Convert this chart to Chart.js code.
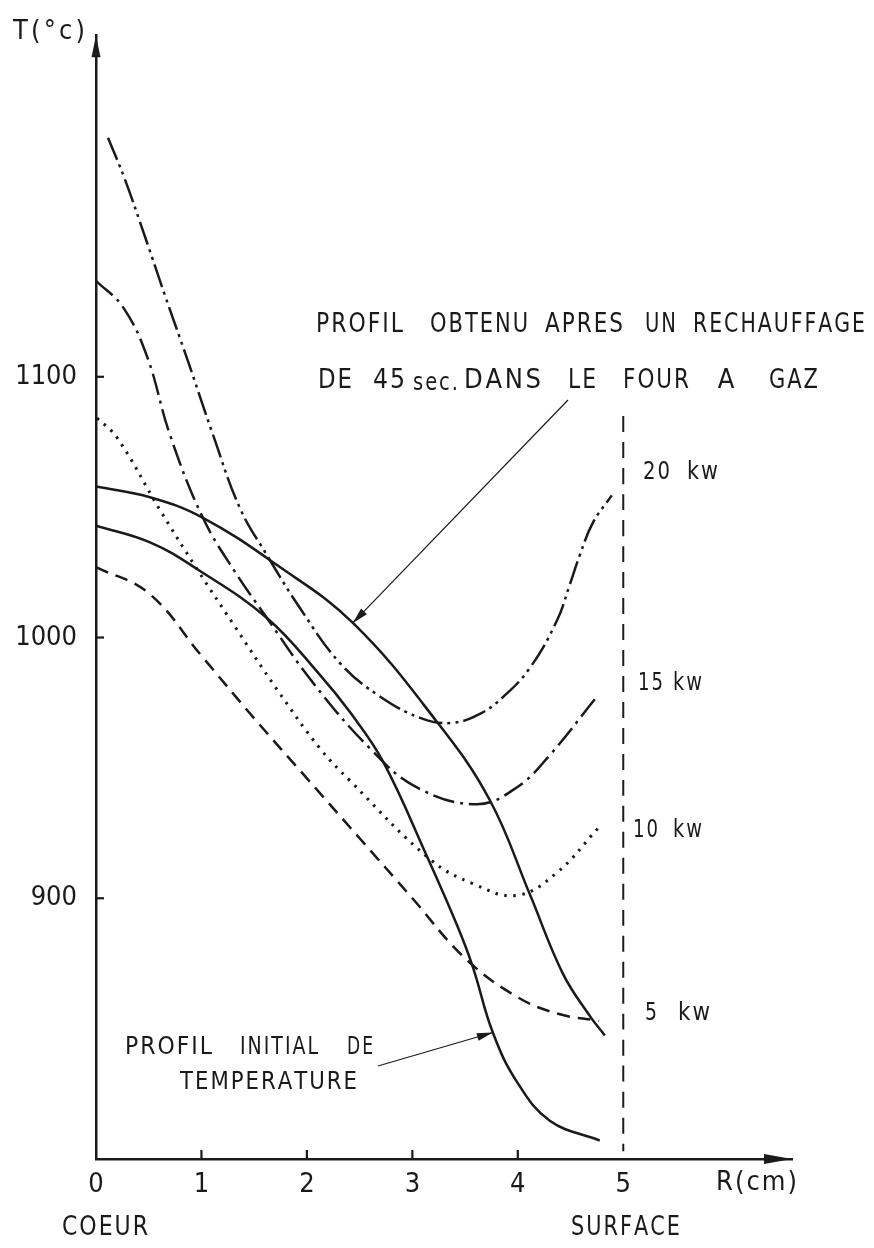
<!DOCTYPE html>
<html><head><meta charset="utf-8">
<script src="https://cdn.jsdelivr.net/npm/chart.js@4/dist/chart.umd.min.js"></script>
<style>html,body{margin:0;padding:0;background:#fff;}#wrap{width:874px;height:1248px;position:relative;}</style>
</head><body><div id="wrap"><canvas id="c" width="874" height="1248"></canvas></div>
<script>
// ---- data (R in cm, T in °C) ----
const xTicks = [0, 1, 2, 3, 4, 5];
const yTicks = [900, 1000, 1100];

const profilObtenuR = [0, 0.512, 1.014, 1.716, 2.436, 3.232, 3.735, 4.114, 4.427, 4.682, 4.825];
const profilObtenuT = [1057.9, 1053.8, 1045.9, 1027.8, 1005.6, 967.7, 937.6, 901.5, 871.1, 854.9, 847.4];

const profilInitialR = [0, 0.512, 0.957, 1.621, 2.123, 2.408, 2.72, 3.137, 3.422, 3.573, 3.763, 3.99, 4.303, 4.777];
const profilInitialT = [1042.9, 1036.5, 1026.3, 1007.5, 985.7, 971.4, 952.6, 916.2, 889.8, 873.7, 848.5, 829.7, 814.7, 807.1];

const kw5R = [0, 0.5, 1.0, 1.5, 2.0, 2.5, 3.0, 3.5, 4.0, 4.4, 4.77];
const kw5T = [1027, 1017, 993, 969, 946, 923, 900, 877, 862, 855.5, 853];

const kw10R = [0.01, 0.199, 0.607, 0.957, 1.299, 1.716, 2.123, 2.408, 3.166, 3.573, 3.99, 4.37, 4.758];
const kw10T = [1084.2, 1076.7, 1048.9, 1026.3, 1005.3, 980.1, 957.5, 945.1, 915.0, 905.6, 901.1, 909.8, 926.7];

const kw15R = [0, 0.256, 0.483, 0.701, 1.014, 1.318, 1.621, 2.057, 2.597, 3.043, 3.611, 3.99, 4.303, 4.73];
const kw15T = [1136.8, 1126.7, 1107.9, 1077.8, 1045.9, 1025.2, 1007.5, 982.7, 957.5, 942.5, 936.1, 942.5, 954.9, 976.3];

const kw20R = [0.114, 0.275, 0.464, 0.654, 0.872, 1.109, 1.365, 1.621, 1.934, 2.313, 2.692, 3.1, 3.384, 3.64, 3.858, 4.114, 4.37, 4.493, 4.588, 4.711, 4.891];
const kw20T = [1191.7, 1175.6, 1153.8, 1131.2, 1106.0, 1077.8, 1049.6, 1031.6, 1011.3, 990.2, 977.4, 968.8, 967.3, 970.7, 977.1, 988.3, 1006.4, 1020.3, 1031.6, 1044.0, 1054.5];

const surfaceR = [5, 5];
const surfaceT = [1085, 803];

// annotation anchors (data coordinates on the curves)
const anchorObtenu = [2.436, 1005.6];
const anchorInitial = [3.763, 848.5];

// ---- styling ----
const FONT = "'DejaVu Sans Condensed','Liberation Sans Narrow','DejaVu Sans',sans-serif";
const INK = '#1a1a1a';
const pts = (R, T) => R.map((r, i) => ({x: r, y: T[i]}));
const ds = (R, T, dash, w) => ({
  data: pts(R, T), borderColor: INK, borderWidth: w || 2.5, borderDash: dash || [],
  pointRadius: 0, fill: false, tension: 0.4, borderCapStyle: 'butt', borderJoinStyle: 'round'
});

function spreadWord(ctx, s, x0, x1, yc, size) {
  ctx.font = size + 'px ' + FONT;
  ctx.textBaseline = 'middle';
  ctx.textAlign = 'left';
  const chars = [...s];
  const ws = chars.map(ch => ctx.measureText(ch).width);
  const nat = ws.reduce((a, b) => a + b, 0);
  const n = chars.length;
  const minGap = 2;
  let sx = 1;
  if (n > 1 && nat + (n - 1) * minGap > (x1 - x0)) sx = ((x1 - x0) - (n - 1) * minGap) / nat;
  if (n === 1 && nat > (x1 - x0)) sx = (x1 - x0) / nat;
  const gap = n > 1 ? ((x1 - x0) - nat * sx) / (n - 1) : 0;
  let x = n > 1 ? x0 : (x0 + x1 - nat * sx) / 2;
  chars.forEach((ch, i) => {
    ctx.save(); ctx.translate(x, yc); ctx.scale(sx, 1); ctx.fillText(ch, 0, 0); ctx.restore();
    x += ws[i] * sx + gap;
  });
}
function arrowHead(ctx, x0, y0, x1, y1, len, hw) {
  const a = Math.atan2(y1 - y0, x1 - x0);
  ctx.beginPath();
  ctx.moveTo(x1, y1);
  ctx.lineTo(x1 - len * Math.cos(a) + hw * Math.sin(a), y1 - len * Math.sin(a) - hw * Math.cos(a));
  ctx.lineTo(x1 - len * Math.cos(a) - hw * Math.sin(a), y1 - len * Math.sin(a) + hw * Math.cos(a));
  ctx.closePath(); ctx.fill();
}

const deco = {
  id: 'deco',
  afterDraw(chart) {
    const ctx = chart.ctx, xs = chart.scales.x, ys = chart.scales.y, ca = chart.chartArea;
    ctx.save();
    ctx.fillStyle = INK; ctx.strokeStyle = INK;
    // inward ticks
    ctx.lineWidth = 2.2;
    yTicks.forEach(v => { const y = ys.getPixelForValue(v); ctx.beginPath(); ctx.moveTo(ca.left, y); ctx.lineTo(ca.left + 8, y); ctx.stroke(); });
    xTicks.slice(1, 5).forEach(v => { const x = xs.getPixelForValue(v); ctx.beginPath(); ctx.moveTo(x, ca.bottom); ctx.lineTo(x, ca.bottom - 9); ctx.stroke(); });
    // axis arrows
    arrowHead(ctx, ca.left, ca.top + 40, ca.left, ca.top, 22, 4.5);
    arrowHead(ctx, ca.right - 40, ca.bottom, ca.right, ca.bottom, 28, 5);
    // axis titles
    spreadWord(ctx, 'T(°c)', 13, 85, 32, 27);
    spreadWord(ctx, 'R(cm)', 716, 797, 1183, 27);
    spreadWord(ctx, 'COEUR', 62, 148, 1228, 27);
    spreadWord(ctx, 'SURFACE', 571, 680, 1228, 27);
    // top annotation
    [['PROFIL',316,403],['OBTENU',430,528],['APRES',545,623],['UN',645,676],['RECHAUFFAGE',693,865]]
      .forEach(w => spreadWord(ctx, w[0], w[1], w[2], 325, 27));
    [['DE',318,352],['45',373,405],['DANS',464,541],['LE',568,596],['FOUR',623,689],['A',714,738],['GAZ',769,818]]
      .forEach(w => spreadWord(ctx, w[0], w[1], w[2], 381, 27));
    spreadWord(ctx, 'sec.', 413, 458, 384, 24);
    // bottom annotation
    [['PROFIL',125,212],['INITIAL',240,318],['DE',347,373]].forEach(w => spreadWord(ctx, w[0], w[1], w[2], 1047, 25));
    spreadWord(ctx, 'TEMPERATURE', 180, 357, 1082, 25);
    // kw labels
    [['20',643,670,'kw',687,718,472],['15',638,663,'kw',673,702,683],['10',633,658,'kw',673,702,830],['5',645,657,'kw',678,710,1013]]
      .forEach(l => { spreadWord(ctx, l[0], l[1], l[2], l[6], 25); spreadWord(ctx, l[3], l[4], l[5], l[6], 25); });
    // leader lines
    ctx.lineWidth = 1.2;
    const t1x = xs.getPixelForValue(anchorObtenu[0]), t1y = ys.getPixelForValue(anchorObtenu[1]);
    ctx.beginPath(); ctx.moveTo(568, 400); ctx.lineTo(t1x, t1y); ctx.stroke();
    arrowHead(ctx, 568, 400, t1x, t1y, 16, 4);
    const t2x = xs.getPixelForValue(anchorInitial[0]), t2y = ys.getPixelForValue(anchorInitial[1]);
    ctx.beginPath(); ctx.moveTo(378, 1066); ctx.lineTo(t2x, t2y); ctx.stroke();
    arrowHead(ctx, 378, 1066, t2x, t2y, 16, 4);
    ctx.restore();
  }
};

new Chart(document.getElementById('c'), {
  type: 'line',
  data: {
    datasets: [
      ds(profilObtenuR, profilObtenuT),
      ds(profilInitialR, profilInitialT),
      ds(kw5R, kw5T, [13, 8]),
      ds(kw10R, kw10T, [2.5, 6.5], 3),
      ds(kw15R, kw15T, [22, 6, 3, 6]),
      ds(kw20R, kw20T, [24, 5, 3, 5, 3, 5]),
      ds(surfaceR, surfaceT, [16, 10], 2)
    ]
  },
  options: {
    responsive: false, animation: false, devicePixelRatio: 1,
    layout: {padding: {left: 0, right: 82, top: 12, bottom: 0}},
    plugins: {legend: {display: false}, tooltip: {enabled: false}},
    scales: {
      x: {
        type: 'linear', min: 0, max: 6.6,
        grid: {display: true, drawOnChartArea: false, drawTicks: false},
        border: {display: true, color: INK, width: 2.5},
        ticks: {color: INK, font: {family: FONT, size: 27}, padding: 10, maxRotation: 0, autoSkip: false,
                callback: v => String(v)},
        afterBuildTicks: s => { s.ticks = xTicks.map(v => ({value: v})); },
        afterFit: s => { s.height = 89; }
      },
      y: {
        type: 'linear', min: 800, max: 1231,
        grid: {display: true, drawOnChartArea: false, drawTicks: false},
        border: {display: true, color: INK, width: 2.5},
        ticks: {color: INK, font: {family: FONT, size: 27}, padding: 19, callback: v => String(v)},
        afterBuildTicks: s => { s.ticks = yTicks.map(v => ({value: v})); },
        afterFit: s => { s.width = 96; }
      }
    }
  },
  plugins: [deco]
});
</script></body></html>
